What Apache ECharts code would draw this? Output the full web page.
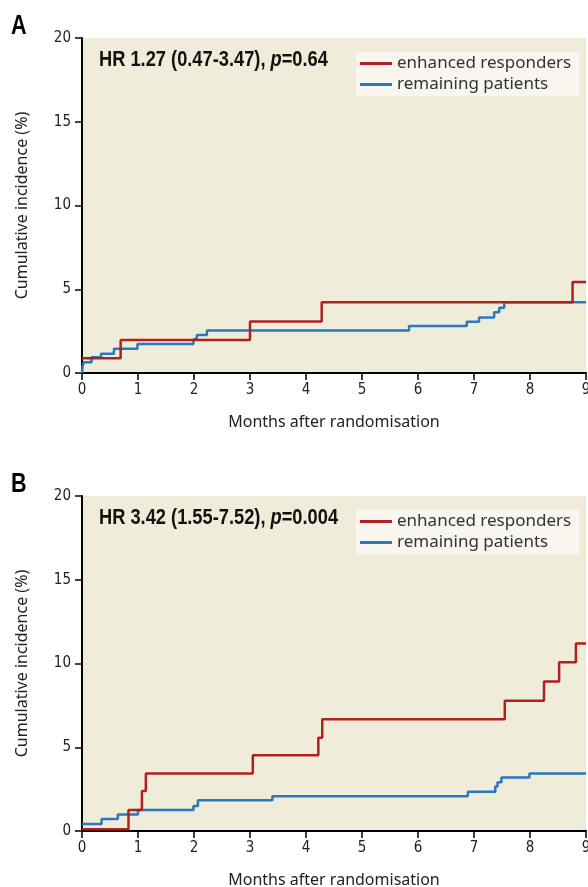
<!DOCTYPE html>
<html><head><meta charset="utf-8">
<script src="https://cdn.jsdelivr.net/npm/echarts@6/dist/echarts.min.js"></script>
<style>html,body{margin:0;padding:0;background:#fff}#c{width:588px;height:887px}</style>
</head><body><div id="c"></div>
<script>
// Panel A
const aRedT = [0, 0.69, 3.0, 4.28, 8.76, 9];
const aRedV = [0.88, 1.97, 3.08, 4.22, 5.43, 5.43];
const aBlueT = [0, 0.01, 0.03, 0.17, 0.34, 0.57, 0.99, 1.99, 2.05, 2.23, 5.84, 6.87, 7.09, 7.36, 7.45, 7.54, 9];
const aBlueV = [0, 0.38, 0.64, 0.94, 1.15, 1.45, 1.73, 2.01, 2.27, 2.53, 2.81, 3.06, 3.32, 3.62, 3.9, 4.22, 4.22];
// Panel B
const bRedT = [0, 0.83, 1.07, 1.14, 3.05, 4.22, 4.29, 7.55, 8.25, 8.52, 8.82, 9];
const bRedV = [0.1, 1.25, 2.39, 3.44, 4.52, 5.57, 6.67, 7.78, 8.92, 10.07, 11.2, 11.2];
const bBlueT = [0, 0.35, 0.64, 1.0, 1.99, 2.07, 3.4, 6.89, 7.38, 7.42, 7.49, 7.99, 9];
const bBlueV = [0.42, 0.72, 0.98, 1.25, 1.49, 1.83, 2.07, 2.35, 2.65, 2.91, 3.2, 3.44, 3.44];

const xTicks = [0,1,2,3,4,5,6,7,8,9];
const yTicks = [0,5,10,15,20];
const seriesNames = ['enhanced responders', 'remaining patients'];
const hrTexts = [['HR 1.27 (0.47-3.47), ', 'p', '=0.64'], ['HR 3.42 (1.55-7.52), ', 'p', '=0.004']];
const panelLetters = ['A', 'B'];
const xName = 'Months after randomisation';
const yName = 'Cumulative incidence (%)';

const RED = '#B0201F', BLUE = '#2A78BE';
const COND = '"Liberation Sans Narrow","DejaVu Sans Condensed",sans-serif';
const BOLDF = '"Liberation Sans",Arial,sans-serif';
const tops = [38, 496];
const pair = (t, v) => t.map((x, i) => [x, v[i]]);

const chart = echarts.init(document.getElementById('c'));
const grids = [], xAxes = [], yAxes = [], series = [], legends = [], graphics = [];
const data = [[aRedT, aRedV, aBlueT, aBlueV], [bRedT, bRedV, bBlueT, bBlueV]];
tops.forEach((top, i) => {
  grids.push({left: 82, top: top, width: 504, height: 335, show: true, backgroundColor: '#F0ECDA', borderWidth: 0,
    containLabel: false, outerBoundsMode: 'none'});
  xAxes.push({type: 'value', gridIndex: i, min: 0, max: 9, interval: 1,
    name: xName, nameLocation: 'middle', nameGap: 41,
    nameTextStyle: {fontSize: 16, color: '#222', fontFamily: '"Noto Sans",sans-serif'},
    axisLine: {lineStyle: {color: '#000', width: 2}},
    axisTick: {show: true, length: 7, lineStyle: {color: '#000', width: 1.5}},
    axisLabel: {fontSize: 15, color: '#222', margin: 10, fontFamily: COND,
      formatter: v => String(xTicks[xTicks.indexOf(v)])},
    splitLine: {show: false}});
  yAxes.push({type: 'value', gridIndex: i, min: 0, max: 20, interval: 5,
    name: yName, nameLocation: 'middle', nameGap: 52,
    nameTextStyle: {fontSize: 16, color: '#222', fontFamily: '"Noto Sans",sans-serif'},
    axisLine: {show: true, lineStyle: {color: '#000', width: 2}},
    axisTick: {show: true, length: 7, lineStyle: {color: '#000', width: 1.5}},
    axisLabel: {fontSize: 15, color: '#222', margin: 11, fontFamily: COND,
      formatter: v => String(yTicks[yTicks.indexOf(v)])},
    splitLine: {show: false}});
  const d = data[i];
  series.push({name: seriesNames[1], type: 'line', step: 'end', xAxisIndex: i, yAxisIndex: i,
    data: pair(d[2], d[3]), showSymbol: false, symbol: 'none', lineStyle: {color: BLUE, width: 2.5}, itemStyle: {color: BLUE}, z: 3});
  series.push({name: seriesNames[0], type: 'line', step: 'end', xAxisIndex: i, yAxisIndex: i,
    data: pair(d[0], d[1]), showSymbol: false, symbol: 'none', lineStyle: {color: RED, width: 2.5}, itemStyle: {color: RED}, z: 4});
  legends.push({data: seriesNames, orient: 'vertical', left: 356, top: top + 14, itemGap: 4,
    icon: 'rect', itemWidth: 32, itemHeight: 3, backgroundColor: '#F8F6EF', padding: [3, 8, 3, 4],
    textStyle: {fontSize: 17, color: '#333', fontFamily: '"Noto Sans",sans-serif'},
    selectedMode: false});
  graphics.push({type: 'text', x: 99, y: top + 11, scaleX: 0.83, style: {
    text: '{b|' + hrTexts[i][0] + '}{i|' + hrTexts[i][1] + '}{b|' + hrTexts[i][2] + '}',
    rich: {b: {fontSize: 22, fontWeight: 'bold', fill: '#111', fontFamily: BOLDF},
           i: {fontSize: 22, fontWeight: 'bold', fontStyle: 'italic', fill: '#111', fontFamily: BOLDF}}}});
  graphics.push({type: 'text', x: 11, y: top - 25, scaleX: 0.8, style: {text: panelLetters[i], fontSize: 27, fontWeight: 'bold', fill: '#000', fontFamily: BOLDF}});
});
chart.setOption({animation: false, grid: grids, xAxis: xAxes, yAxis: yAxes, series: series, legend: legends, graphic: graphics});
</script></body></html>
